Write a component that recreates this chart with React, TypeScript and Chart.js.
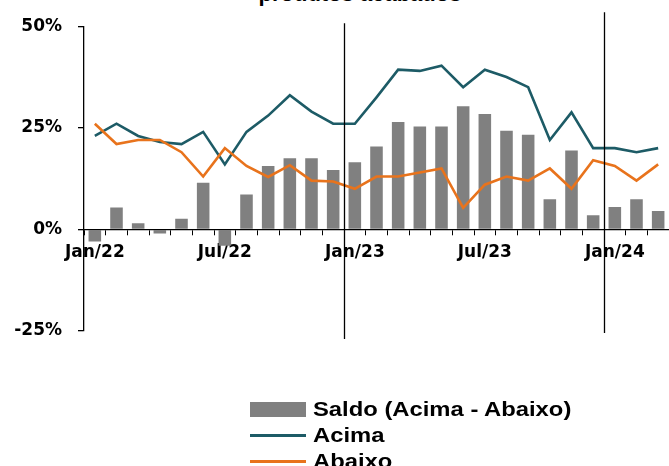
import React, { useEffect, useRef } from "react";
import { Chart, registerables } from "chart.js";

Chart.register(...registerables);

const categories = [
  "Jan/22", "Fev/22", "Mar/22", "Abr/22", "Mai/22", "Jun/22", "Jul/22", "Ago/22", "Set/22", "Out/22", "Nov/22", "Dez/22",
  "Jan/23", "Fev/23", "Mar/23", "Abr/23", "Mai/23", "Jun/23", "Jul/23", "Ago/23", "Set/23", "Out/23", "Nov/23", "Dez/23",
  "Jan/24", "Fev/24", "Mar/24",
];

const saldo = [
  -3, 5.4, 1.5, -1, 2.6, 11.5, -4, 8.6, 15.6, 17.5, 17.5, 14.6,
  16.5, 20.4, 26.4, 25.3, 25.3, 30.3, 28.4, 24.3, 23.3, 7.4, 19.4, 3.5,
  5.5, 7.4, 4.5,
];

const acima = [
  23, 26, 23, 21.5, 21, 24, 16, 24, 28, 33, 29, 26,
  26, 32.5, 39.3, 39, 40.3, 35, 39.3, 37.5, 35, 22, 28.8, 20,
  20, 19, 20,
];

const abaixo = [
  26, 21, 22, 22, 19, 13, 20, 15.6, 12.9, 15.8, 12, 11.8,
  10, 13, 13, 14, 15, 5.3, 11, 13, 12, 15, 10, 17,
  15.6, 12, 16,
];

const yTicks = [-25, 0, 25, 50];
const dividerIndices = [12, 24];

const TEAL = "#1d5b66";
const ORANGE = "#e8731c";
const GREY = "#808080";
const FONT = "'Liberation Sans', Arial, sans-serif";
const TICK_FONT = "'DejaVu Sans', 'Liberation Sans', sans-serif";

const dividerPlugin = {
  id: "dividers",
  afterDatasetsDraw(chart: any) {
    const x = chart.scales.x;
    const area = chart.chartArea;
    const ctx = chart.ctx;
    ctx.save();
    ctx.strokeStyle = "#000";
    ctx.lineWidth = 1.3;
    dividerIndices.forEach((idx, i) => {
      const px = (x.getPixelForValue(idx) + x.getPixelForValue(idx - 1)) / 2;
      const top = i === 0 ? area.top - 3 : area.top - 14;
      const bottom = i === 0 ? area.bottom + 8 : area.bottom + 2;
      ctx.beginPath();
      ctx.moveTo(Math.round(px) + 0.5, top);
      ctx.lineTo(Math.round(px) + 0.5, bottom);
      ctx.stroke();
    });
    ctx.restore();
  },
};

export default function App() {
  const canvasRef = useRef<HTMLCanvasElement | null>(null);

  useEffect(() => {
    if (!canvasRef.current) return;
    const chart = new Chart(canvasRef.current, {
      type: "bar",
      data: {
        labels: categories,
        datasets: [
          {
            type: "line",
            label: "Acima",
            data: acima,
            borderColor: TEAL,
            backgroundColor: TEAL,
            borderWidth: 2.6,
            pointRadius: 0,
            tension: 0,
            order: 2,
          } as any,
          {
            type: "line",
            label: "Abaixo",
            data: abaixo,
            borderColor: ORANGE,
            backgroundColor: ORANGE,
            borderWidth: 2.6,
            pointRadius: 0,
            tension: 0,
            order: 1,
          } as any,
          {
            type: "bar",
            label: "Saldo (Acima - Abaixo)",
            data: saldo,
            backgroundColor: GREY,
            borderWidth: 0,
            categoryPercentage: 1,
            barPercentage: 0.58,
            order: 3,
          } as any,
        ],
      },
      options: {
        responsive: false,
        animation: false,
        layout: { padding: { top: 23, bottom: 135, left: 0, right: 0 } },
        plugins: {
          legend: { display: false },
          title: { display: false },
          tooltip: { enabled: false },
        },
        scales: {
          x: {
            type: "category",
            position: { y: 0 } as any,
            offset: true,
            grid: {
              offset: true,
              drawOnChartArea: false,
              drawTicks: true,
              tickLength: 5,
              color: "#000",
              lineWidth: 1,
            },
            border: { display: true, color: "#000", width: 1.3 },
            ticks: {
              autoSkip: false,
              maxRotation: 0,
              minRotation: 0,
              padding: 8,
              color: "#000",
              font: { family: TICK_FONT, size: 17, weight: "bold" },
              callback: (_v: any, idx: number) => (idx % 6 === 0 ? categories[idx] : ""),
            },
          },
          y: {
            min: -25,
            max: 50,
            afterBuildTicks: (scale: any) => {
              scale.ticks = yTicks.map((v) => ({ value: v }));
            },
            afterFit: (scale: any) => {
              scale.width = 84;
            },
            grid: {
              drawOnChartArea: false,
              drawTicks: true,
              tickLength: 6,
              color: "#000",
              lineWidth: 1.3,
            },
            border: { display: true, color: "#000", width: 1.3 },
            ticks: {
              padding: 16,
              color: "#000",
              font: { family: TICK_FONT, size: 17, weight: "bold" },
              callback: (v: any) => `${v}%`,
            },
          },
        },
      },
      plugins: [dividerPlugin],
    } as any);
    return () => chart.destroy();
  }, []);

  const legendText: React.CSSProperties = {
    fontFamily: FONT,
    fontWeight: "bold",
    fontSize: 20,
    color: "#000",
    lineHeight: "26px",
    whiteSpace: "nowrap",
    display: "inline-block",
    transform: "scaleX(1.19)",
    transformOrigin: "left center",
  };

  return (
    <div style={{ position: "absolute", left: 0, top: 0, width: 669, height: 466, overflow: "hidden", background: "#fff" }}>
      <div
        style={{
          position: "absolute",
          left: 0,
          width: 720,
          top: -17,
          textAlign: "center",
          fontFamily: FONT,
          fontWeight: "bold",
          fontSize: 22,
          lineHeight: "22px",
          color: "#000",
        }}
      >
        produtos acabados
      </div>
      <canvas ref={canvasRef} width={669} height={466} style={{ position: "absolute", left: 0, top: 0 }} />
      <div style={{ position: "absolute", left: 250, top: 396 }}>
        <div style={{ display: "flex", alignItems: "center", height: 26 }}>
          <div style={{ width: 56, height: 15, background: GREY, marginRight: 7 }} />
          <span style={legendText}>Saldo (Acima - Abaixo)</span>
        </div>
        <div style={{ display: "flex", alignItems: "center", height: 26 }}>
          <div style={{ width: 56, height: 3, background: TEAL, marginRight: 7 }} />
          <span style={legendText}>Acima</span>
        </div>
        <div style={{ display: "flex", alignItems: "center", height: 26 }}>
          <div style={{ width: 56, height: 3, background: ORANGE, marginRight: 7 }} />
          <span style={legendText}>Abaixo</span>
        </div>
      </div>
    </div>
  );
}
